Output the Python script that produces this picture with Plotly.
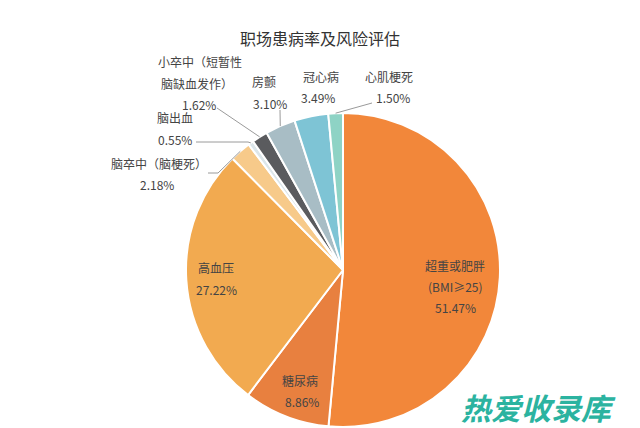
import math
import plotly.graph_objects as go

# ---- data ----
categories = ["超重或肥胖", "糖尿病", "高血压", "脑卒中（脑梗死）", "脑出血",
              "小卒中（短暂性脑缺血发作）", "房颤", "冠心病", "心肌梗死"]
values = [51.47, 8.86, 27.22, 2.18, 0.55, 1.62, 3.10, 3.49, 1.50]
colors = ["#F2873A", "#E8803F", "#F2AA50", "#F7CA8A", "#DCE6EA",
          "#5A5B5E", "#A8BDC5", "#7EC4D5", "#8ED3C5"]
title_text = "职场患病率及风险评估"
watermark = "热爱收录库"

W, H = 640, 428
CX, CY, R = 343, 270, 157  # pie centre / radius in pixels

def px(x):
    return x / W

def py(y):
    return 1 - y / H

fig = go.Figure(go.Pie(
    labels=categories, values=values, sort=False, direction="clockwise",
    rotation=0, textinfo="none", hoverinfo="label+percent",
    marker=dict(colors=colors, line=dict(color="white", width=2)),
    domain=dict(x=[px(CX - R), px(CX + R)], y=[py(CY + R), py(CY - R)]),
    showlegend=False,
))

# mid-angle edge point of each slice (computed from data)
total = sum(values)
edge = []
cum = 0.0
for v in values:
    mid = (cum + v / 2) / total * 2 * math.pi
    edge.append((CX + R * math.sin(mid), CY - R * math.cos(mid)))
    cum += v

FONT = "Noto Sans CJK SC, Microsoft YaHei, sans-serif"
annotations = []

def label(text, x, y, size=12, color="#444444"):
    annotations.append(dict(text=text, x=px(x), y=py(y), xref="paper", yref="paper",
                            showarrow=False, xanchor="center", yanchor="middle",
                            font=dict(family=FONT, size=size, color=color)))

label(title_text, 320, 38, size=16, color="#333333")

pct = [f"{v:.2f}%" for v in values]
# inside labels
label("超重或肥胖", 455, 265); label("(BMI≥25)", 455, 286); label(pct[0], 455, 307)
label("糖尿病", 300, 380); label(pct[1], 302, 401)
label("高血压", 216, 267); label(pct[2], 216, 289)
# outside labels
label("脑卒中（脑梗死）", 159, 163); label(pct[3], 157, 184)
label("脑出血", 175, 118); label(pct[4], 175, 140)
label("小卒中（短暂性", 200, 61); label("脑缺血发作）", 197, 83); label(pct[5], 199, 105)
label("房颤", 264, 82); label(pct[6], 270, 103)
label("冠心病", 321, 76); label(pct[7], 318, 98)
label("心肌梗死", 389, 76); label(pct[8], 393, 98)

# watermark
annotations.append(dict(text="<b><i>" + watermark + "</i></b>", x=px(538), y=py(407),
                        xref="paper", yref="paper", showarrow=False,
                        xanchor="center", yanchor="middle",
                        font=dict(family=FONT, size=30, color="#2BB3A0")))

# leader lines
shapes = []
def polyline(points):
    path = "M " + " L ".join(f"{px(x)},{py(y)}" for x, y in points)
    shapes.append(dict(type="path", path=path, xref="paper", yref="paper",
                       line=dict(color="#9a9a9a", width=1)))

polyline([(208, 173), (218, 173), edge[3]])
polyline([(196, 142), (248, 142), edge[4]])
polyline([(217, 108), edge[5]])
polyline([(280, 110), edge[6]])
polyline([(372, 103), edge[8]])

fig.update_layout(width=W, height=H, margin=dict(l=0, r=0, t=0, b=0),
                  paper_bgcolor="white", plot_bgcolor="white",
                  annotations=annotations, shapes=shapes)

fig.write_html("out.html")
